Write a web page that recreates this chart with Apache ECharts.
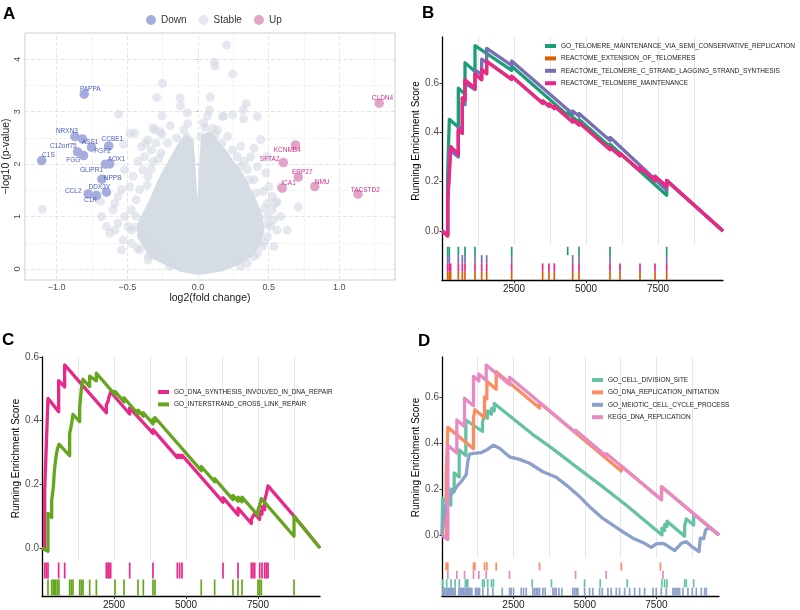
<!DOCTYPE html>
<html><head><meta charset="utf-8">
<script src="https://cdn.jsdelivr.net/npm/echarts@6/dist/echarts.min.js"></script>
<style>html,body{margin:0;padding:0;background:#fff}#c{width:800px;height:610px}</style>
</head><body><div id="c"></div>
<script>
// ================= DATA =================
// ---- Panel A (volcano) ----
const downGenes = ['PAPPA','NRXN3','ASS1','FGF2','CCBE1','C12orf75','FGG','C1S','AOX1','GLIPR1','NPPB','DDX3Y','CCL2','C1R'];
const downX = [-0.805,-0.871,-0.817,-0.754,-0.632,-0.852,-0.810,-1.106,-0.625,-0.655,-0.680,-0.648,-0.777,-0.718];
const downY = [3.334,2.525,2.481,2.323,2.347,2.233,2.162,2.067,2.004,1.998,1.712,1.464,1.431,1.399];
const upGenes = ['CLDN4','KCNMB4','SFTA2','ERP27','ICA1','NMU','TACSTD2'];
const upX = [1.282,0.690,0.604,0.709,0.596,0.826,1.132];
const upY = [3.162,2.366,2.029,1.750,1.540,1.571,1.426];
// scattered "Stable" genes outside the dense core
const stablePts = [
[0.202,4.27],[0.115,3.94],[0.120,3.87],[0.246,3.72],[-0.251,3.54],[-0.293,3.27],[-0.127,3.26],[-0.124,3.11],
[-0.563,2.95],[-0.254,2.92],[-0.075,2.98],[-0.197,2.73],[-0.308,2.65],[-0.268,2.62],[-0.077,2.51],[-0.448,2.59],
[-0.481,2.58],[0.340,3.15],[0.319,3.03],[0.246,2.94],[0.181,2.91],[0.322,2.86],[0.080,3.03],[0.068,2.92],
[0.040,2.79],[0.106,2.68],[0.444,2.47],[0.303,2.34],[0.397,2.30],[0.491,2.14],[0.373,2.14],[0.326,2.05],
[0.138,2.65],[0.209,2.53],[0.021,2.53],[-0.526,2.38],[-0.371,2.40],[-0.319,2.69],[-0.256,2.57],[-0.073,2.77],
[0.087,3.28],[0.174,2.91],[0.420,2.91],[-0.354,2.46],[-0.296,2.40],[-0.401,2.33],[-0.331,2.27],[-0.214,2.40],
[-0.261,2.21],[-0.378,2.14],[-0.425,2.05],[-0.319,2.05],[-0.460,1.77],[-0.390,1.89],[-0.519,1.89],[-0.354,1.76],
[-0.484,1.57],[-0.413,1.51],[-0.542,1.51],[-0.566,1.38],[-0.690,1.29],[-0.589,1.25],[-0.601,1.13],[-0.519,1.00],
[-0.566,0.87],[-0.472,0.74],[-0.624,0.68],[-0.531,0.55],[-0.472,0.49],[-0.413,0.36],[-0.331,0.36],[-0.261,0.24],
[-0.472,1.13],[-0.437,1.32],[-0.495,0.81],[-0.401,0.62],[-0.589,0.74],[-0.683,1.00],[-0.648,0.81],[-0.542,0.36],
[-0.354,0.17],[-1.100,1.14],[0.420,1.95],[0.479,1.83],[0.350,1.89],[0.397,1.70],[0.462,1.48],[0.502,1.57],
[0.526,1.38],[0.491,1.25],[0.549,1.25],[0.526,1.13],[0.709,1.18],[0.491,1.00],[0.514,0.81],[0.561,0.74],
[0.491,0.62],[0.455,0.43],[0.397,0.24],[0.350,0.11],[0.585,1.00],[0.631,0.74],[0.538,0.43],[0.279,2.14],
[0.244,2.27],[0.585,1.57],[0.560,1.28],[0.535,0.94],[-0.36,1.60],[-0.33,1.90],[-0.28,2.10],[-0.44,1.00],
[-0.45,0.80],[-0.43,0.40],[-0.35,0.25],[-0.20,0.05],[0.30,1.95],[0.36,1.70],[0.41,1.45],[0.47,1.15],
[0.49,0.85],[0.47,0.50],[0.42,0.30],[0.30,0.05],[-0.15,2.50],[-0.10,2.65],[0.05,2.70],[0.12,2.55],[0.17,2.40]
];
// outline of the saturated core of "Stable" genes
const stableCore = [
[-0.007,-0.07],[-0.12,-0.02],[-0.225,0.11],[-0.319,0.23],[-0.378,0.43],[-0.413,0.62],[-0.42,0.81],[-0.39,1.0],
[-0.354,1.19],[-0.319,1.38],[-0.289,1.57],[-0.256,1.76],[-0.218,1.95],[-0.178,2.14],[-0.131,2.37],[-0.085,2.52],
[-0.045,2.46],[-0.03,1.89],[-0.012,1.0],[0.005,1.0],[0.02,1.89],[0.035,2.52],[0.08,2.59],[0.139,2.4],
[0.197,2.21],[0.256,1.98],[0.315,1.76],[0.362,1.51],[0.408,1.25],[0.444,1.0],[0.456,0.74],[0.432,0.49],
[0.373,0.27],[0.28,0.11],[0.162,-0.01],[0.056,-0.06]
];
const xTicksA = [-1, -0.5, 0, 0.5, 1];
const yTicksA = [0, 1, 2, 3, 4];
const xGridMajorA = [-1, -0.5, 0, 0.5, 1];
const xGridMinorA = [-0.75, -0.25, 0.25, 0.75, 1.25];
const yGridMajorA = [0, 1, 2, 3, 4];
const yGridMinorA = [0.5, 1.5, 2.5, 3.5];

// ---- GSEA common ----
const gseaXTicks = [2500, 5000, 7500];
const gseaXGrid = [1250, 2500, 3750, 5000, 6250, 7500, 8750];
const gseaYTicks = [0, 0.2, 0.4, 0.6];

// ---- Panel B ----
const namesB = ['GO_TELOMERE_MAINTENANCE_VIA_SEMI_CONSERVATIVE_REPLICATION','REACTOME_EXTENSION_OF_TELOMERES','REACTOME_TELOMERE_C_STRAND_LAGGING_STRAND_SYNTHESIS','REACTOME_TELOMERE_MAINTENANCE'];
const esB_green = [[0,0],[197,-0.015],[197,0.234],[255,0.23],[255,0.453],[567,0.421],[567,0.579],[799,0.555],[799,0.683],[1146,0.647],[1146,0.752],[2419,0.652],[2419,0.668],[4364,0.47],[4364,0.48],[4757,0.44],[4757,0.452],[5833,0.342],[5833,0.352],[7801,0.145],[7801,0.205],[9757,0]];
const esB_pink = [[0,0],[197,-0.02],[197,0.12],[255,0.117],[255,0.235],[300,0.232],[300,0.342],[567,0.31],[567,0.41],[706,0.396],[706,0.54],[799,0.53],[799,0.613],[1146,0.578],[1146,0.637],[1378,0.614],[1378,0.655],[1551,0.638],[1551,0.688],[2419,0.615],[2419,0.628],[3494,0.518],[3494,0.528],[3714,0.506],[3714,0.516],[3900,0.497],[3900,0.507],[4538,0.442],[4538,0.452],[4757,0.43],[4757,0.44],[5833,0.33],[5833,0.34],[6180,0.305],[6180,0.315],[6875,0.244],[6875,0.258],[7396,0.204],[7396,0.222],[7801,0.18],[7801,0.205],[9757,0]];
const esB_orange = [[0,0],[197,-0.02],[197,0.12],[255,0.117],[255,0.235],[300,0.232],[300,0.342],[567,0.31],[567,0.41],[706,0.396],[706,0.54],[799,0.53],[799,0.613],[1146,0.578],[1146,0.637],[1378,0.614],[1378,0.655],[1551,0.638],[1551,0.688],[2419,0.615],[2419,0.628],[3494,0.518],[3494,0.528],[3714,0.506],[3714,0.516],[3900,0.497],[3900,0.507],[4538,0.442],[4538,0.452],[4757,0.43],[4757,0.44],[5833,0.33],[5833,0.34],[6180,0.305],[6180,0.315],[6875,0.244],[6875,0.258],[7396,0.204],[7396,0.222],[7801,0.18],[7801,0.205],[9757,0]];
const esB_purple = [[0,0],[197,-0.015],[197,0.13],[255,0.125],[255,0.33],[567,0.30],[567,0.425],[706,0.412],[706,0.52],[799,0.512],[799,0.6],[1146,0.573],[1146,0.653],[1378,0.635],[1378,0.697],[1551,0.683],[1551,0.741],[2419,0.672],[2419,0.69],[4538,0.475],[4538,0.487],[4757,0.465],[4757,0.477],[5833,0.367],[5833,0.38],[7801,0.165],[7801,0.205],[9757,0]];
const hitsB_green = [197,255,567,799,1146,2419,4364,4757,5833,7801];
const hitsB_purple = [197,255,567,706,799,1146,1378,1551,2419,4538,4757,5833,7801];
const hitsB_pink = [197,255,300,567,706,799,1146,1378,1551,2419,3494,3714,3900,4538,4757,5833,6180,6875,7396,7801];
const hitsB_orange = [197,255,300,567,706,799,1146,1378,1551,2419,3494,3714,3900,4538,4757,5833,6180,6875,7396,7801];

// ---- Panel C ----
const namesC = ['GO_DNA_SYNTHESIS_INVOLVED_IN_DNA_REPAIR','GO_INTERSTRAND_CROSS_LINK_REPAIR'];
const esC_pink = [[0,0],[93,-0.005],[93,0.18],[150,0.177],[150,0.324],[208,0.32],[208,0.47],[578,0.428],[578,0.526],[787,0.506],[787,0.575],[2234,0.425],[2234,0.45],[2291,0.444],[2291,0.46],[2326,0.456],[2326,0.475],[2384,0.469],[2384,0.49],[3044,0.421],[3044,0.44],[3854,0.36],[3854,0.372],[4699,0.284],[4699,0.292],[4780,0.284],[4780,0.292],[4861,0.284],[4861,0.292],[6284,0.144],[6284,0.158],[6805,0.104],[6805,0.125],[7268,0.077],[7268,0.09],[7326,0.084],[7326,0.1],[7384,0.094],[7384,0.108],[7558,0.09],[7558,0.115],[7639,0.107],[7639,0.13],[7731,0.12],[7731,0.15],[7789,0.144],[7789,0.17],[7847,0.164],[7847,0.195],[8750,0.1],[9652,0]];
const esC_green = [[0,0],[208,-0.01],[208,0.109],[336,0.096],[336,0.15],[393,0.145],[393,0.19],[428,0.186],[428,0.24],[475,0.235],[475,0.28],[533,0.274],[533,0.31],[590,0.305],[590,0.326],[960,0.29],[960,0.36],[1018,0.354],[1018,0.385],[1076,0.38],[1076,0.42],[1308,0.397],[1308,0.44],[1366,0.434],[1366,0.5],[1424,0.494],[1424,0.53],[1655,0.507],[1655,0.54],[1887,0.525],[1887,0.549],[2534,0.482],[2534,0.492],[2847,0.459],[2847,0.472],[3333,0.421],[3333,0.433],[3518,0.414],[3518,0.425],[3854,0.39],[3854,0.405],[3923,0.398],[3923,0.41],[5530,0.243],[5530,0.256],[5993,0.208],[5993,0.218],[6630,0.152],[6630,0.165],[6805,0.147],[6805,0.16],[6944,0.145],[6944,0.16],[7500,0.102],[7500,0.12],[7558,0.114],[7558,0.135],[7616,0.13],[7616,0.155],[8750,0.037],[8750,0.1],[9652,0]];
const hitsC_pink = [93,150,208,578,787,2234,2291,2326,2384,3044,3854,4699,4780,4861,6284,6805,7268,7326,7384,7558,7639,7731,7789,7847];
const hitsC_green = [208,336,393,428,475,533,590,960,1018,1076,1308,1366,1424,1655,1887,2534,2847,3333,3518,3854,3923,5530,5993,6630,6805,6944,7500,7558,7616,8750];

// ---- Panel D ----
const namesD = ['GO_CELL_DIVISION_SITE','GO_DNA_REPLICATION_INITIATION','GO_MEIOTIC_CELL_CYCLE_PROCESS','KEGG_DNA_REPLICATION'];
const esD_green = [[0,0],[20,-0.003],[20,0.16],[309,0.13],[309,0.2],[426,0.188],[426,0.27],[601,0.252],[601,0.37],[834,0.346],[834,0.5],[892,0.494],[892,0.505],[1417,0.45],[1417,0.49],[1476,0.484],[1476,0.52],[1592,0.508],[1592,0.54],[1732,0.525],[1732,0.55],[1826,0.54],[1826,0.572],[3155,0.439],[3155,0.446],[3820,0.38],[3820,0.386],[4987,0.269],[4987,0.275],[5535,0.218],[5535,0.224],[6480,0.126],[6480,0.132],[7694,0.0],[7694,0.03],[7788,0.02],[7788,0.045],[7870,0.037],[7870,0.06],[8488,-0.005],[8488,0.04],[8546,0.034],[8546,0.07],[8803,0.043],[8803,0.09],[9690,0]];
const esD_orange = [[0,0],[146,-0.012],[146,0.25],[204,0.245],[204,0.468],[1102,0.375],[1102,0.51],[1149,0.505],[1149,0.545],[1487,0.51],[1487,0.6],[1569,0.592],[1569,0.668],[1896,0.634],[1896,0.71],[3412,0.552],[3412,0.575],[6271,0.278],[6271,0.3],[7680,0.153],[7680,0.21],[9690,0]];
const esD_blue = [[0,0],[40,0.0],[99,0.12],[192,0.145],[309,0.175],[437,0.195],[542,0.215],[671,0.232],[846,0.262],[904,0.32],[962,0.352],[1100,0.355],[1359,0.358],[1592,0.372],[1802,0.391],[2012,0.377],[2362,0.34],[2712,0.329],[3062,0.312],[3529,0.275],[3996,0.251],[4347,0.217],[4812,0.167],[5222,0.116],[5628,0.072],[5978,0.043],[6328,0.014],[6678,-0.014],[7087,-0.036],[7322,-0.054],[7497,-0.039],[7728,-0.036],[7903,-0.048],[8137,-0.068],[8372,-0.036],[8547,-0.029],[8780,-0.054],[8990,-0.072],[9037,-0.014],[9153,-0.016],[9223,0.022],[9338,0.033],[9690,0]];
const esD_pink = [[0,0],[204,-0.02],[204,0.39],[519,0.357],[519,0.5],[788,0.472],[788,0.595],[1102,0.562],[1102,0.69],[1289,0.67],[1289,0.7],[1545,0.673],[1545,0.739],[2362,0.654],[2362,0.686],[4672,0.446],[4672,0.455],[5745,0.343],[5745,0.354],[7680,0.153],[7680,0.21],[9690,0]];
const hitsD_orange = [146,204,1102,1149,1487,1569,1896,3412,6271,7640];
const hitsD_pink = [204,519,788,1102,1289,1545,2362,4672,5745,7730];
const hitsD_green = [25,164,315,460,605,820,860,900,1417,1476,1600,1730,1800,3155,3830,4987,5535,6480,7694,7788,7870,8488,8546,8803];
const hitsD_blue = [29,64,99,146,181,228,263,298,344,379,414,461,589,636,671,729,764,811,846,881,928,963,998,1044,1173,1219,1266,1313,1429,1604,1779,2106,2363,2421,2503,2771,2853,2946,3179,3238,3296,3354,3413,3529,3611,3879,3938,3996,4089,4194,4579,4638,4696,4754,4988,5163,5279,5513,5606,5804,5921,6096,6213,6388,6563,6738,6913,7088,7379,7496,7671,7846,8079,8138,8196,8254,8313,8429,8604,8756,8896,9071,9188,9246];

// ================= LAYOUT / STYLE =================
const FONT = '"Liberation Sans", Arial, Helvetica, sans-serif';
const grids = [], xAxes = [], yAxes = [], series = [], legends = [];

// ---- Panel A ----
const fmtA = v => (v < 0 ? '\u2212' + Math.abs(v).toFixed(1) : v.toFixed(1));
grids.push({left:23, top:33, width:372, height:247, show:true, borderColor:'#cfcfcf', borderWidth:1, backgroundColor:'transparent'});
xAxes.push({gridIndex:0, type:'value', min:-1.225, max:1.394,
  axisLine:{show:false}, splitLine:{show:false},
  axisTick:{show:true, customValues:xTicksA, length:3, lineStyle:{color:'#9a9a9a'}},
  axisLabel:{customValues:xTicksA, formatter:fmtA, fontSize:9, color:'#4d4d4d', margin:3, fontFamily:FONT},
  name:'log2(fold change)', nameLocation:'middle', nameGap:13, nameTextStyle:{fontSize:10.5, color:'#1a1a1a', fontFamily:FONT}});
yAxes.push({gridIndex:0, type:'value', min:-0.21, max:4.5,
  axisLine:{show:false}, splitLine:{show:false},
  axisTick:{show:true, customValues:yTicksA, length:3, lineStyle:{color:'#9a9a9a'}},
  axisLabel:{customValues:yTicksA, formatter:v => String(v), rotate:90, fontSize:9, color:'#4d4d4d', margin:3, fontFamily:FONT},
  name:'\u2212log10 (p-value)', nameLocation:'middle', nameGap:11, nameTextStyle:{fontSize:10.5, color:'#1a1a1a', fontFamily:FONT}});

const gridA = [].concat(
  xGridMajorA.map(v => ({xAxis:v, lineStyle:{color:'#e6e6e6', width:1}})),
  xGridMinorA.map(v => ({xAxis:v, lineStyle:{color:'#eeeeee', width:0.8}})),
  yGridMajorA.map(v => ({yAxis:v, lineStyle:{color:'#e6e6e6', width:1}})),
  yGridMinorA.map(v => ({yAxis:v, lineStyle:{color:'#eeeeee', width:0.8}}))
);
series.push({type:'custom', xAxisIndex:0, yAxisIndex:0, data:[0], silent:true, z:2,
  renderItem:(params, api) => ({type:'polygon', shape:{points: stableCore.map(p => api.coord(p))},
    style:{fill:'#d6dce4', stroke:'#d6dce4', lineWidth:4, lineJoin:'round'}})});
series.push({name:'Stable', type:'scatter', xAxisIndex:0, yAxisIndex:0, data:stablePts, symbolSize:9, z:3,
  itemStyle:{color:'#d3d9e2', opacity:0.6}, silent:true,
  markLine:{silent:true, z:1, symbol:['none','none'], label:{show:false}, animation:false, data:gridA}});
const downLabelOffset = [[6,-5],[-8,-5],[7.5,3.7],[11,4.4],[3.7,-6.7],[-14.3,-6],[-10.3,5],[6.7,-5],[6.7,-4.7],[-14,5.7],[10.7,-1],[-7,-4.6],[-15,-2.3],[-6,5]];
const upLabelOffset = [[3.3,-5],[-8.3,5],[-13.7,-3.7],[4,-5],[6.3,-5],[7.4,-4.4],[7.3,-4.3]];
series.push({name:'Down', type:'scatter', xAxisIndex:0, yAxisIndex:0, symbolSize:9.5, z:4,
  itemStyle:{color:'#a5acde', opacity:1}, silent:true,
  data: downGenes.map((g,i) => ({name:g, value:[downX[i], downY[i]], label:{offset:downLabelOffset[i]}})),
  label:{show:true, position:'inside', formatter:p => p.name, fontSize:6.5, color:'#4a5cc0', fontFamily:FONT}});
series.push({name:'Up', type:'scatter', xAxisIndex:0, yAxisIndex:0, symbolSize:9.5, z:4,
  itemStyle:{color:'#e3a3c7', opacity:1}, silent:true,
  data: upGenes.map((g,i) => ({name:g, value:[upX[i], upY[i]], label:{offset:upLabelOffset[i]}})),
  label:{show:true, position:'inside', formatter:p => p.name, fontSize:6.5, color:'#d2318a', fontFamily:FONT}});
legends.push({data:['Down','Stable','Up'], left:146, top:15, padding:0, itemWidth:10, itemHeight:10, itemGap:12,
  icon:'circle', selectedMode:false, textStyle:{fontSize:10, color:'#333', fontFamily:FONT}});

// ---- GSEA panel builder ----
function gsea(p) {
  const gi = grids.length;
  grids.push({left:p.left, top:p.top, width:p.width, height:p.scoreH});
  grids.push({left:p.left, top:p.top + p.scoreH, width:p.width, height:p.rugH});
  const axisLine = {show:true, onZero:false, lineStyle:{color:'#000', width:1.3}};
  xAxes.push({gridIndex:gi, type:'value', min:0, max:p.N, show:false});
  yAxes.push({gridIndex:gi, type:'value', min:p.yMin, max:p.yMax, axisLine:axisLine, splitLine:{show:false},
    axisTick:{show:true, customValues:gseaYTicks, length:2.5, lineStyle:{color:'#333'}},
    axisLabel:{customValues:gseaYTicks, formatter:v => v.toFixed(1), fontSize:10, color:'#4d4d4d', margin:3, fontFamily:FONT},
    name:'Running Enrichment Score', nameLocation:'middle', nameGap:p.titleGap,
    nameTextStyle:{fontSize:10, color:'#000', fontFamily:FONT}});
  xAxes.push({gridIndex:gi+1, type:'value', min:0, max:p.N, axisLine:axisLine, splitLine:{show:false},
    axisTick:{show:true, customValues:gseaXTicks, length:3, lineStyle:{color:'#333'}},
    axisLabel:{customValues:gseaXTicks, formatter:v => String(v), fontSize:10, color:'#1a1a1a', margin:4, fontFamily:FONT}});
  yAxes.push({gridIndex:gi+1, type:'value', min:0, max:p.rugMax, axisLine:axisLine,
    axisTick:{show:false}, axisLabel:{show:false}, splitLine:{show:false}});
  p.curves.forEach((c, i) => {
    const s = {name:c.name, type:'line', xAxisIndex:gi, yAxisIndex:gi, data:c.es, showSymbol:false, symbol:'none',
      lineStyle:{color:c.color, width:3.3, join:'round'}, itemStyle:{color:c.color}, z:3+i, silent:true};
    if (i === 0) s.markLine = {silent:true, z:1, symbol:['none','none'], label:{show:false}, animation:false,
      lineStyle:{color:'#e6e6e6', width:1, type:'solid'}, data:gseaXGrid.map(v => ({xAxis:v}))};
    series.push(s);
    series.push({name:'rug ' + c.name, type:'scatter', xAxisIndex:gi+1, yAxisIndex:gi+1, symbol:'rect',
      symbolSize:[1.7, p.rugTick], data:c.hits.map(h => [h, c.row]), itemStyle:{color:c.color, opacity:1}, silent:true, z:3});
  });
  legends.push({data:p.curves.map(c => c.name), orient:'vertical', left:p.legendLeft, top:p.legendTop, padding:0,
    itemWidth:11, itemHeight:4, itemGap:4.4, icon:'rect', selectedMode:false,
    textStyle:{fontSize:6.5, lineHeight:8, color:'#1a1a1a', fontFamily:FONT}});
}

gsea({left:442, width:281, top:37, scoreH:208, rugH:35, yMin:-0.057, yMax:0.787, rugMax:4.217, rugTick:8.3,
  N:9757, titleGap:19, legendLeft:545, legendTop:42,
  curves:[
    {name:namesB[0], color:'#1B9E77', es:esB_green, hits:hitsB_green, row:3.5},
    {name:namesB[1], color:'#D95F02', es:esB_orange, hits:hitsB_orange, row:0.5},
    {name:namesB[2], color:'#7570B3', es:esB_purple, hits:hitsB_purple, row:2.5},
    {name:namesB[3], color:'#E7298A', es:esB_pink, hits:hitsB_pink, row:1.5}
  ]});
gsea({left:42, width:278, top:357, scoreH:203, rugH:36, yMin:-0.0377, yMax:0.6, rugMax:2.118, rugTick:16,
  N:9652, titleGap:19, legendLeft:158, legendTop:388,
  curves:[
    {name:namesC[0], color:'#E7298A', es:esC_pink, hits:hitsC_pink, row:1.5},
    {name:namesC[1], color:'#66A61E', es:esC_green, hits:hitsC_green, row:0.5}
  ]});
gsea({left:442, width:277, top:357, scoreH:201, rugH:38, yMin:-0.1, yMax:0.774, rugMax:4.5, rugTick:8.2,
  N:9690, titleGap:19, legendLeft:592, legendTop:376,
  curves:[
    {name:namesD[0], color:'#66C2A5', es:esD_green, hits:hitsD_green, row:1.5},
    {name:namesD[1], color:'#FC8D62', es:esD_orange, hits:hitsD_orange, row:3.5},
    {name:namesD[2], color:'#8DA0CB', es:esD_blue, hits:hitsD_blue, row:0.5},
    {name:namesD[3], color:'#E78AC3', es:esD_pink, hits:hitsD_pink, row:2.5}
  ]});

const letters = [['A',3,6],['B',422,5],['C',2,332],['D',418,333]];
const chart = echarts.init(document.getElementById('c'), null, {renderer:'canvas', width:800, height:610});
chart.setOption({
  animation:false,
  backgroundColor:'#ffffff',
  textStyle:{fontFamily:FONT},
  grid:grids, xAxis:xAxes, yAxis:yAxes, series:series, legend:legends,
  graphic: letters.map(l => ({type:'text', left:l[1], top:l[2], silent:true,
    style:{text:l[0], font:'bold 17px ' + FONT, fill:'#000'}}))
});
</script></body></html>
